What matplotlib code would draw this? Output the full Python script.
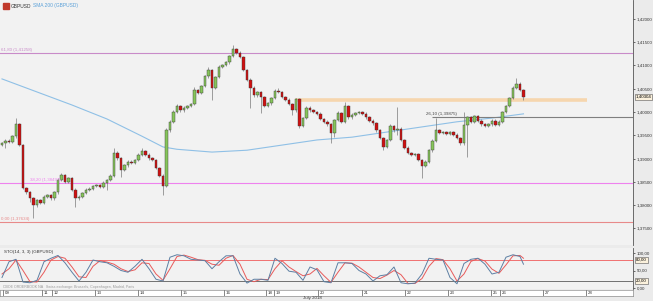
import matplotlib.pyplot as plt

plt.rcParams['font.family'] = ['Liberation Sans', 'DejaVu Sans']

W, H = 653, 301

# GBPUSD candles (hourly), closes
closes = [1.3933, 1.3938, 1.3936, 1.3948, 1.3974, 1.3929, 1.3837, 1.3828, 1.3815, 1.3800,
          1.3811, 1.3805, 1.3818, 1.3822, 1.3815, 1.3828, 1.3854, 1.3865, 1.3850, 1.3858,
          1.3833, 1.3815, 1.3818, 1.3826, 1.3833, 1.3835, 1.3841, 1.3843, 1.3839, 1.3848,
          1.3854, 1.3863, 1.3912, 1.3901, 1.3876, 1.3886, 1.3893, 1.3891, 1.3897, 1.3908,
          1.3916, 1.3908, 1.3901, 1.3897, 1.3880, 1.3863, 1.3841, 1.3961, 1.3979, 1.4000,
          1.4013, 1.4004, 1.4009, 1.4013, 1.4017, 1.4047, 1.4041, 1.4056, 1.4077, 1.4090,
          1.4052, 1.4075, 1.4097, 1.4101, 1.4107, 1.4120, 1.4135, 1.4127, 1.4118, 1.4090,
          1.4069, 1.4052, 1.4036, 1.4043, 1.4032, 1.4013, 1.4019, 1.4030, 1.4045, 1.4043,
          1.4032, 1.4026, 1.4017, 1.4004, 1.4028, 1.3970, 1.3987, 1.4009, 1.4004, 1.4000,
          1.3996, 1.3985, 1.3979, 1.3974, 1.3955, 1.3983, 1.3998, 1.3979, 1.4013, 1.3989,
          1.3994, 1.3998, 1.4000, 1.3996, 1.3989, 1.3981, 1.3976, 1.3961, 1.3944, 1.3925,
          1.3940, 1.3970, 1.3961, 1.3964, 1.3940, 1.3923, 1.3912, 1.3908, 1.3910, 1.3897,
          1.3884, 1.3893, 1.3918, 1.3938, 1.3961, 1.3955, 1.3957, 1.3953, 1.3957, 1.3951,
          1.3944, 1.3933, 1.3972, 1.3989, 1.3979, 1.3991, 1.3981, 1.3974, 1.3970, 1.3974,
          1.3981, 1.3972, 1.3979, 1.4000, 1.4013, 1.4030, 1.4052, 1.4060, 1.4047, 1.4032]
first_open = 1.3930
# wick lengths in pips above / below the body
wick_up = [3, 3, 3, 3, 13, 3, 3, 3, 3, 3,
           3, 3, 3, 3, 3, 3, 4, 5, 3, 3,
           3, 3, 3, 3, 3, 3, 3, 3, 3, 3,
           3, 3, 11, 4, 3, 3, 3, 3, 3, 3,
           7, 3, 3, 3, 3, 3, 3, 4, 4, 4,
           4, 3, 3, 3, 3, 6, 3, 3, 3, 6,
           3, 3, 3, 3, 3, 3, 9, 3, 3, 3,
           3, 3, 3, 3, 3, 3, 3, 3, 5, 6,
           3, 3, 3, 3, 3, 3, 3, 4, 3, 3,
           3, 3, 3, 3, 3, 3, 4, 3, 8, 3,
           3, 3, 3, 3, 3, 3, 3, 3, 3, 3,
           3, 5, 3, 47, 3, 3, 3, 3, 3, 3,
           3, 3, 3, 3, 26, 3, 3, 3, 3, 3,
           3, 3, 28, 3, 3, 3, 3, 3, 3, 3,
           3, 3, 3, 3, 3, 3, 4, 13, 4, 3]
wick_dn = [3, 10, 3, 3, 3, 3, 3, 3, 8, 28,
           3, 3, 3, 3, 3, 3, 3, 3, 3, 3,
           3, 18, 3, 3, 3, 3, 3, 3, 3, 3,
           15, 3, 3, 3, 15, 3, 3, 3, 3, 3,
           3, 3, 3, 3, 3, 3, 19, 3, 3, 3,
           3, 3, 3, 3, 3, 3, 3, 3, 3, 3,
           26, 3, 3, 3, 3, 3, 3, 3, 3, 3,
           3, 43, 3, 3, 34, 3, 3, 3, 3, 3,
           3, 3, 3, 10, 3, 4, 3, 3, 3, 3,
           3, 3, 3, 3, 22, 9, 3, 3, 3, 3,
           3, 3, 3, 3, 3, 3, 3, 3, 3, 7,
           3, 3, 3, 10, 3, 3, 3, 3, 3, 3,
           26, 3, 3, 3, 3, 3, 3, 3, 3, 3,
           3, 3, 3, 69, 3, 3, 3, 3, 3, 3,
           3, 3, 3, 3, 3, 3, 3, 3, 3, 6]

sma_idx = [0, 10, 20, 30, 40, 46, 50, 60, 70, 80, 90, 100, 110, 120, 130, 140, 149]
sma_200 = [1.4071, 1.4043, 1.4015, 1.3985, 1.3948, 1.3925, 1.3920, 1.3914, 1.3918,
           1.3929, 1.3940, 1.3946, 1.3957, 1.3968, 1.3979, 1.3987, 1.3996]

stoch_idx = list(range(0, 150, 2)) + [149]
stoch_k = [30, 75, 82, 17, 15, 22, 75, 85, 93, 72,
           45, 20, 45, 80, 75, 72, 62, 50, 45, 62,
           82, 55, 25, 20, 88, 95, 92, 82, 80, 78,
           55, 75, 92, 92, 40, 14, 25, 25, 22, 85,
           70, 48, 45, 22, 60, 52, 18, 15, 72, 72,
           70, 50, 40, 20, 35, 38, 60, 15, 12, 14,
           40, 85, 82, 80, 30, 12, 70, 82, 85, 68,
           40, 45, 88, 95, 90, 68]
stoch_d = [40, 55, 80, 50, 18, 17, 45, 80, 90, 85,
           60, 32, 30, 62, 78, 74, 68, 55, 47, 52,
           72, 70, 40, 22, 55, 90, 94, 88, 81, 79,
           68, 65, 85, 93, 68, 25, 18, 25, 24, 55,
           78, 60, 47, 35, 40, 56, 35, 16, 45, 72,
           71, 60, 45, 30, 27, 37, 50, 38, 13, 13,
           27, 62, 84, 81, 55, 20, 40, 76, 84, 77,
           54, 42, 66, 92, 93, 85]

# horizontal levels
fib_levels = [(1.41266, '61,80 (1,41258)', '#c98bc9', -0.3),
              (1.38476, '38,20 (1,38497)', '#ee82ee', 8.0),
              (1.37650, '0,00 (1,37634)', '#e88a8a', -0.3)]
resist_level = 1.4026
support_level = 1.39893
last_price = '1,40304'

day_labels = ['09', '11', '12', '13', '14', '15', '16', '18', '19', '20',
              '21', '22', '23', '25', '26', '27', '28']
day_pos = [0.3, 11.4, 14.3, 26.6, 38.9, 51.1, 63.4, 75.4, 77.7, 90.3,
           102.9, 115.1, 127.4, 139.7, 142.3, 154.6, 166.9]


def px_rect(x0, y0, x1, y1):
    return [x0 / W, 1 - y1 / H, (x1 - x0) / W, (y1 - y0) / H]


def price_at(y):
    return 1.4 + (112 - y) * 0.0002146


xmin, xmax = -0.571, 180.29

fig = plt.figure(figsize=(W / 100, H / 100), dpi=100, facecolor='#ebebeb')

# ---- main price panel
ax = fig.add_axes(px_rect(0, 0, 633, 245), facecolor='#f2f2f2')
ax.set_xlim(xmin, xmax)
ax.set_ylim(price_at(245), price_at(0))

opens = [first_open] + closes[:-1]
for i, (o, c) in enumerate(zip(opens, closes)):
    top, bot = max(o, c), min(o, c)
    ax.vlines(i, bot - wick_dn[i] * 0.0001, top + wick_up[i] * 0.0001,
              color='#7a7a7a', linewidth=0.5, zorder=2)
    col = '#86c55a' if c >= o else '#d01010'
    ax.bar(i, max(top - bot, 0.00006), bottom=bot, width=0.62, color=col,
           edgecolor='#3a3a3a', linewidth=0.3, zorder=3)

ax.plot(sma_idx, sma_200, color='#8fc0e6', linewidth=0.8, zorder=1)

for lvl, lab, col, xl in fib_levels:
    ax.axhline(lvl, color=col, linewidth=0.8, zorder=1)
    ax.text(xl, lvl + 0.0002, lab, color=col, fontsize=3.2, va='bottom', ha='left')

ax.hlines(resist_level, 83.7, 167.1, color='#f6d6ae', linewidth=2.6, zorder=1)
ax.hlines(support_level, 122.9, xmax, color='#7f7f7f', linewidth=0.8, zorder=1)
ax.text(121.1, support_level + 0.0002, '26,10 (1,39875)', color='#444444',
        fontsize=3.2, va='bottom', ha='left')

yt = [1.375 + 0.005 * k for k in range(10)]
ax.set_yticks(yt)
ax.set_yticklabels([f'{v:.5f}'.replace('.', ',') for v in yt])
ax.yaxis.tick_right()
ax.tick_params(axis='y', labelsize=3.2, length=1.5, width=0.5, pad=1,
               colors='#333333')
ax.set_xticks([])
for s in ['top', 'left', 'bottom']:
    ax.spines[s].set_visible(False)
ax.spines['right'].set_color('#555555')
ax.spines['right'].set_linewidth(0.6)

# header
fig.patches.append(plt.Rectangle((3 / W, 1 - 9 / H), 6 / W, 6 / H,
                                 transform=fig.transFigure, color='#c0392b'))
fig.text(11 / W, 1 - 6 / H, 'GBPUSD', fontsize=3.5, color='#333333', va='center')
fig.text(33 / W, 1 - 6 / H, 'SMA 200 (GBPUSD)', fontsize=3.5, color='#5aa0d8',
         va='center')

# last price box
fig.text(635.5 / W, 1 - 97 / H, last_price, fontsize=3.2, va='center', ha='left',
         bbox=dict(boxstyle='square,pad=0.2', facecolor='#fbf1dc',
                   edgecolor='#555555', linewidth=0.4))

# ---- stochastic panel
sx = fig.add_axes(px_rect(0, 248, 633, 289), facecolor='#f2f2f2')
sx.set_xlim(xmin, xmax)
sx.set_ylim((288 - 289) / 0.35, (288 - 248) / 0.35)
sx.axhline(80, color='#f07070', linewidth=0.7)
sx.axhline(20, color='#707070', linewidth=0.7)
sx.plot(stoch_idx, stoch_d, color='#e85a5a', linewidth=0.7)
sx.plot(stoch_idx, stoch_k, color='#5d7fa3', linewidth=0.7)
sx.text(0.5, 103, 'STO(14, 3, 3) (GBPUSD)', fontsize=3.2, color='#333333',
        va='center')
sx.set_yticks([0, 50, 100])
sx.set_yticklabels(['0,00', '50,00', '100,00'])
sx.yaxis.tick_right()
sx.tick_params(axis='y', labelsize=3.2, length=1.5, width=0.5, pad=1,
               colors='#333333')
sx.set_xticks([])
for s in ['top', 'left', 'bottom']:
    sx.spines[s].set_visible(False)
sx.spines['right'].set_color('#555555')
sx.spines['right'].set_linewidth(0.6)
for v in [80, 20]:
    sx.text(xmax + 0.9, v, f'{v},00', fontsize=3.2, va='center', ha='left',
            bbox=dict(boxstyle='square,pad=0.2', facecolor='#fbf1dc',
                      edgecolor='#555555', linewidth=0.4), clip_on=False)

fig.text(3 / W, 1 - 287 / H, 'CBOE ORDERBOOK NA   Swiss exchange: Brussels, Copenhagen, Madrid, Paris',
         fontsize=2.6, color='#9a9a9a', va='center')

# ---- date strip
tx = fig.add_axes(px_rect(0, 290, 633, 296), facecolor='white')
tx.set_xlim(xmin, xmax)
tx.set_ylim(0, 1)
tx.set_xticks([])
tx.set_yticks([])
for s in tx.spines.values():
    s.set_color('#777777')
    s.set_linewidth(0.4)
for p, lab in zip(day_pos, day_labels):
    tx.axvline(p, color='#555555', linewidth=0.5)
    tx.text(p + 0.5, 0.45, lab, fontsize=3.2, va='center', ha='left', color='#333333')

fig.text(312 / W, 1 - 298.5 / H, 'July 2018', fontsize=3.2, ha='center',
         va='center', color='#333333')

fig.savefig('out.png', dpi=100, facecolor=fig.get_facecolor())
